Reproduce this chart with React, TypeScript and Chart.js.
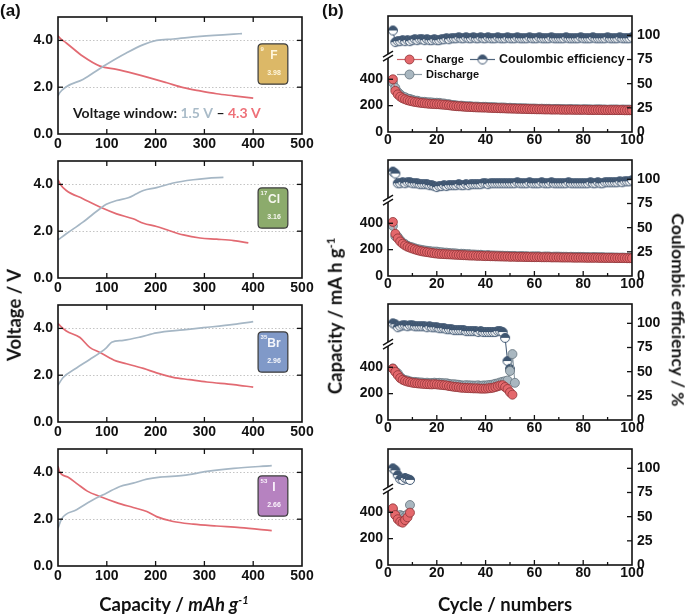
import React, { useEffect, useRef } from 'react';
import { Chart, registerables } from 'chart.js';
Chart.register(...registerables);

// ---------------- (a) voltage profiles: capacity (mAh/g) vs voltage (V) ----------------
const fChargeCap = [0, 3, 17, 51, 86, 99, 140, 175, 202, 236, 291, 360, 377];
const fChargeV = [1.63, 1.75, 2.02, 2.33, 2.8, 2.97, 3.46, 3.82, 4.0, 4.06, 4.17, 4.27, 4.29];
const fDischargeCap = [0, 5, 17, 51, 86, 120, 154, 188, 223, 257, 291, 325, 360, 400];
const fDischargeV = [4.2, 4.08, 3.89, 3.32, 2.9, 2.76, 2.59, 2.4, 2.19, 1.98, 1.84, 1.72, 1.63, 1.53];

const clChargeCap = [0, 17, 51, 86, 99, 120, 144, 161, 175, 202, 236, 277, 305, 339];
const clChargeV = [1.63, 1.89, 2.39, 2.96, 3.15, 3.31, 3.43, 3.6, 3.74, 3.86, 4.06, 4.2, 4.26, 4.3];
const clDischargeCap = [0, 5, 17, 51, 86, 120, 154, 175, 202, 223, 257, 291, 325, 360, 390];
const clDischargeV = [4.2, 4.0, 3.74, 3.39, 3.03, 2.74, 2.53, 2.34, 2.2, 2.06, 1.84, 1.71, 1.66, 1.6, 1.5];

const brChargeCap = [0, 10, 38, 65, 99, 110, 134, 168, 202, 257, 298, 360, 400];
const brChargeV = [1.57, 1.89, 2.31, 2.67, 3.17, 3.41, 3.49, 3.63, 3.81, 3.94, 4.03, 4.17, 4.29];
const brDischargeCap = [0, 5, 17, 45, 65, 86, 106, 120, 140, 175, 202, 236, 270, 305, 360, 400];
const brDischargeV = [4.21, 4.1, 3.89, 3.61, 3.19, 2.97, 2.74, 2.6, 2.49, 2.29, 2.1, 1.91, 1.81, 1.71, 1.6, 1.49];

const iChargeCap = [0, 7, 38, 72, 99, 127, 154, 182, 209, 257, 305, 360, 438];
const iChargeV = [1.61, 2.0, 2.4, 2.83, 3.11, 3.4, 3.54, 3.71, 3.8, 3.87, 4.04, 4.17, 4.29];
const iDischargeCap = [0, 3, 20, 40, 60, 86, 120, 154, 182, 202, 236, 277, 325, 373, 438];
const iDischargeV = [4.26, 4.03, 3.8, 3.5, 3.2, 2.97, 2.71, 2.5, 2.33, 2.11, 1.9, 1.79, 1.71, 1.64, 1.51];

const capacityTicksA = [0, 100, 200, 300, 400, 500];
const voltageTicks = [0, 2, 4];
const voltageGrid = [2, 4];

const badgeNumbers = ['9', '17', '35', '53'];
const badgeSymbols = ['F', 'Cl', 'Br', 'I'];
const badgeValues = ['3.98', '3.16', '2.96', '2.66'];
const badgeColors = ['#dcb867', '#8cab6c', '#8099c8', '#b682c0'];
const badgeTextColors = ['#fff6dc', '#f7f7f0', '#f4f6fb', '#fbf3fc'];

const windowParts: [string, string][] = [
  ['Voltage window: ', '#1a1a1a'],
  ['1.5 V', '#a9bbc8'],
  [' \u2013 ', '#1a1a1a'],
  ['4.3 V', '#ee7078'],
];

// ---------------- (b) cycling: capacity (mAh/g) and CE (%) ----------------
const firstCycle = 2;
const cycleTicks = [0, 20, 40, 60, 80, 100];
const capacityTicksB = [0, 200, 400];
const ceTicks = [0, 25, 50, 75, 100];

const fCharge = [
  400, 312, 285, 268, 256, 248, 241, 236, 232,
  228, 225, 222, 220, 218, 216, 214, 213, 212, 211,
  210, 208, 207, 205, 203, 200, 198, 196, 195, 194,
  192, 191, 190, 189, 188, 187, 186, 186, 185, 185,
  184, 183, 182, 182, 181, 180, 180, 179, 178, 178,
  177, 177, 176, 176, 175, 175, 174, 174, 173, 173,
  172, 172, 172, 171, 171, 171, 170, 170, 170, 170,
  169, 169, 169, 169, 169, 168, 168, 168, 168, 168,
  168, 167, 167, 167, 167, 167, 167, 166, 166, 166,
  166, 166, 166, 166, 166, 166, 165, 165, 165, 165,
];
const fDischarge = [
  375, 335, 303, 285, 269, 264, 254, 251, 244,
  238, 237, 231, 229, 229, 225, 225, 224, 221, 222,
  221, 217, 216, 211, 211, 206, 204, 202, 199, 200,
  198, 195, 196, 195, 192, 193, 192, 190, 191, 191,
  188, 189, 188, 188, 185, 186, 186, 185, 182, 184,
  182, 182, 180, 181, 180, 180, 179, 178, 178, 178,
  177, 176, 177, 176, 176, 176, 173, 175, 175, 175,
  174, 174, 172, 174, 174, 173, 173, 173, 171, 173,
  173, 172, 172, 170, 172, 172, 172, 171, 171, 169,
  171, 171, 171, 171, 169, 171, 170, 170, 170, 168,
];
const fCE = [
  105, 93, 94, 94, 95, 94, 95, 94, 95,
  96, 95, 96, 96, 95, 96, 95, 95, 96, 95,
  95, 96, 96, 97, 96, 97, 97, 97, 98, 97,
  97, 98, 97, 97, 98, 97, 97, 98, 97, 97,
  98, 97, 97, 97, 98, 97, 97, 97, 98, 97,
  97, 97, 98, 97, 97, 97, 97, 98, 97, 97,
  97, 98, 97, 97, 97, 97, 98, 97, 97, 97,
  97, 97, 98, 97, 97, 97, 97, 97, 98, 97,
  97, 97, 97, 98, 97, 97, 97, 97, 97, 98,
  97, 97, 97, 97, 98, 97, 97, 97, 97, 98,
];

const clCharge = [
  410, 320, 285, 262, 245, 232, 222, 215, 208,
  202, 196, 191, 187, 184, 181, 178, 175, 172, 170,
  168, 167, 166, 165, 164, 163, 162, 161, 160, 159,
  158, 157, 156, 155, 155, 154, 153, 153, 152, 151,
  151, 150, 150, 149, 149, 148, 148, 147, 147, 146,
  146, 146, 145, 145, 145, 144, 144, 144, 143, 143,
  143, 143, 142, 142, 142, 142, 141, 141, 141, 141,
  140, 140, 140, 140, 140, 139, 139, 139, 139, 139,
  138, 138, 138, 138, 138, 138, 137, 137, 137, 137,
  137, 137, 136, 136, 136, 136, 136, 135, 135, 135,
];
const clDischarge = [
  380, 302, 297, 273, 253, 242, 229, 222, 217,
  210, 204, 201, 197, 194, 191, 189, 186, 185, 185,
  181, 180, 177, 177, 174, 173, 172, 171, 168, 169,
  168, 165, 166, 163, 163, 162, 161, 161, 158, 157,
  159, 156, 156, 155, 155, 154, 154, 153, 153, 152,
  152, 152, 149, 151, 151, 150, 150, 148, 149, 149,
  149, 149, 146, 148, 148, 148, 145, 147, 147, 147,
  146, 146, 146, 144, 146, 145, 145, 145, 145, 145,
  144, 144, 142, 144, 144, 142, 143, 143, 141, 141,
  141, 141, 140, 140, 139, 140, 139, 138, 138, 136,
];
const clCE = [
  108, 106, 96, 96, 97, 96, 97, 97, 96,
  96, 96, 95, 95, 95, 95, 94, 94, 93, 92,
  93, 93, 94, 93, 94, 94, 94, 94, 95, 94,
  94, 95, 94, 95, 95, 95, 95, 95, 96, 96,
  95, 96, 96, 96, 96, 96, 96, 96, 96, 96,
  96, 96, 97, 96, 96, 96, 96, 97, 96, 96,
  96, 96, 97, 96, 96, 96, 97, 96, 96, 96,
  96, 96, 96, 97, 96, 96, 96, 96, 96, 96,
  96, 96, 97, 96, 96, 97, 96, 96, 97, 97,
  97, 97, 97, 97, 98, 97, 98, 98, 98, 99,
];

const brCharge = [
  390, 365, 340, 318, 305, 297, 291, 287, 283,
  280, 278, 276, 275, 273, 272, 271, 270, 272, 270,
  268, 266, 264, 262, 258, 255, 252, 250, 248, 245,
  244, 243, 242, 241, 240, 240, 239, 238, 238, 238,
  240, 242, 245, 250, 256, 262, 264, 250, 235, 210, 192,
];
const brDischarge = [
  390, 369, 354, 328, 311, 303, 300, 293, 289,
  289, 287, 285, 284, 281, 283, 279, 281, 283, 281,
  282, 280, 278, 279, 274, 271, 271, 269, 267, 263,
  262, 264, 263, 262, 261, 261, 263, 259, 262, 262,
  264, 266, 269, 275, 278, 285, 290, 294, 300, 372, 500, 282,
];
const brCE = [
  100, 99, 96, 97, 98, 98, 97, 98, 98,
  97, 97, 97, 97, 97, 96, 97, 96, 96, 96,
  95, 95, 95, 94, 94, 94, 93, 93, 93, 93,
  93, 92, 92, 92, 92, 92, 91, 92, 91, 91,
  91, 91, 91, 91, 92, 92, 91, 85, 61, 53,
];

const iCharge = [430, 379, 347, 329, 321, 341, 362, 397];
const iDischarge = [420, 380, 365, 379, 372, 365, 385, 455];
const iCE = [100, 98, 93, 89, 88, 90, 89, 88];

const legendLabels = ['Charge', 'Discharge', 'Coulombic efficiency'];

// ---------------- styling ----------------
const TICK_FONT = { family: "'Liberation Sans', Arial, sans-serif", size: 14, weight: 'bold' as const };
const TITLE_FONT = "'Lato', 'Liberation Sans', sans-serif";
const LINE_CHARGE_A = '#a6b7c5';
const LINE_DISCHARGE_A = '#e26a72';
const RED_FILL = '#e4686c';
const RED_EDGE = '#8e3437';
const GRAY_FILL = '#a9b7c0';
const GRAY_EDGE = '#66747e';
const CE_DARK = '#3e5570';

const pts = (xs: number[], ys: number[]) => xs.map((x, i) => ({ x, y: ys[i] }));
const cyc = (ys: number[]) => ys.map((y, i) => ({ x: firstCycle + i, y }));

function makeHalfDot(r: number) {
  const c = document.createElement('canvas');
  const s = Math.ceil(r * 2 + 3);
  c.width = s;
  c.height = s;
  const g = c.getContext('2d')!;
  const m = s / 2;
  g.fillStyle = '#ffffff';
  g.beginPath(); g.arc(m, m, r, 0, Math.PI * 2); g.fill();
  g.fillStyle = CE_DARK;
  g.beginPath(); g.arc(m, m, r, Math.PI, Math.PI * 2); g.closePath(); g.fill();
  g.strokeStyle = CE_DARK; g.lineWidth = 1;
  g.beginPath(); g.arc(m, m, r, 0, Math.PI * 2); g.stroke();
  return c;
}

function line(ctx: CanvasRenderingContext2D, x1: number, y1: number, x2: number, y2: number) {
  ctx.beginPath(); ctx.moveTo(x1, y1); ctx.lineTo(x2, y2); ctx.stroke();
}

function roundRect(ctx: CanvasRenderingContext2D, x: number, y: number, w: number, h: number, r: number) {
  ctx.beginPath();
  ctx.moveTo(x + r, y);
  ctx.lineTo(x + w - r, y); ctx.quadraticCurveTo(x + w, y, x + w, y + r);
  ctx.lineTo(x + w, y + h - r); ctx.quadraticCurveTo(x + w, y + h, x + w - r, y + h);
  ctx.lineTo(x + r, y + h); ctx.quadraticCurveTo(x, y + h, x, y + h - r);
  ctx.lineTo(x, y + r); ctx.quadraticCurveTo(x, y, x + r, y);
  ctx.closePath();
}

const decoPlugin = {
  id: 'deco',
  beforeDatasetsDraw(chart: any, _args: any, o: any) {
    if (o.kind !== 'voltage') return;
    const { ctx, chartArea: a, scales } = chart;
    ctx.save();
    ctx.strokeStyle = '#b5b5b5';
    ctx.lineWidth = 0.8;
    ctx.setLineDash([1.5, 2]);
    for (const v of voltageGrid) {
      const y = Math.round(scales.y.getPixelForValue(v)) + 0.5;
      line(ctx, a.left, y, a.right, y);
    }
    ctx.restore();
  },
  afterDraw(chart: any, _args: any, o: any) {
    const { ctx, chartArea: a, scales } = chart;
    ctx.save();
    ctx.setLineDash([]);
    ctx.strokeStyle = '#111';
    ctx.lineWidth = 1.6;
    ctx.strokeRect(a.left, a.top, a.right - a.left, a.bottom - a.top);
    ctx.lineWidth = 1.3;
    const major = 5, minor = 3;
    if (o.kind === 'voltage') {
      for (const v of capacityTicksA.slice(1, -1)) {
        const x = scales.x.getPixelForValue(v);
        line(ctx, x, a.bottom, x, a.bottom - major);
        line(ctx, x, a.top, x, a.top + major);
      }
      for (const v of voltageGrid) {
        const y = scales.y.getPixelForValue(v);
        line(ctx, a.left, y, a.left + major, y);
        line(ctx, a.right, y, a.right - major, y);
      }
      // element badge
      const i = o.index;
      const x0 = scales.x.getPixelForValue(410), x1 = scales.x.getPixelForValue(471);
      const y0 = scales.y.getPixelForValue(3.85), y1 = scales.y.getPixelForValue(2.13);
      const w = x1 - x0, h = y1 - y0;
      roundRect(ctx, x0, y0, w, h, 4);
      ctx.fillStyle = badgeColors[i];
      ctx.fill();
      ctx.strokeStyle = '#3a3a3a';
      ctx.lineWidth = 1.2;
      ctx.stroke();
      ctx.fillStyle = badgeTextColors[i];
      ctx.textAlign = 'left';
      ctx.textBaseline = 'middle';
      ctx.font = "bold 6px 'Liberation Sans', Arial";
      ctx.fillText(badgeNumbers[i], x0 + 2.5, y0 + 5);
      ctx.textAlign = 'center';
      ctx.font = "bold 12px 'Liberation Sans', Arial";
      ctx.fillText(badgeSymbols[i], x0 + w / 2 + 1, y0 + 12);
      ctx.font = "bold 7px 'Liberation Sans', Arial";
      ctx.fillText(badgeValues[i], x0 + w / 2 + 1, y0 + 29);
      if (o.window) {
        ctx.font = `bold 14px ${TITLE_FONT}`;
        ctx.textAlign = 'left';
        ctx.textBaseline = 'alphabetic';
        let x = a.left + 15;
        const y = a.top + 101;
        for (const [t, c] of windowParts) {
          ctx.fillStyle = c;
          ctx.fillText(t, x, y);
          x += ctx.measureText(t).width;
        }
      }
    } else {
      ctx.strokeStyle = '#111';
      for (const v of cycleTicks.slice(1, -1)) {
        const x = scales.x.getPixelForValue(v);
        line(ctx, x, a.bottom, x, a.bottom - major);
      }
      for (let k = 0; k < cycleTicks.length - 1; k++) {
        const x = scales.x.getPixelForValue((cycleTicks[k] + cycleTicks[k + 1]) / 2);
        line(ctx, x, a.bottom, x, a.bottom - minor);
      }
      for (const v of capacityTicksB.slice(1)) {
        const y = scales.y.getPixelForValue(v);
        line(ctx, a.left, y, a.left + major, y);
      }
      for (const v of ceTicks.slice(1)) {
        const y = scales.y1.getPixelForValue(v);
        line(ctx, a.right, y, a.right - major, y);
      }
      // axis break mark
      const by = scales.y.getPixelForValue(575);
      const bx = a.left;
      ctx.fillStyle = '#ffffff';
      ctx.beginPath();
      ctx.moveTo(bx - 5, by + 1); ctx.lineTo(bx + 5, by - 5); ctx.lineTo(bx + 5, by - 1); ctx.lineTo(bx - 5, by + 5);
      ctx.closePath(); ctx.fill();
      ctx.lineWidth = 1.4;
      line(ctx, bx - 5, by + 1, bx + 5, by - 5);
      line(ctx, bx - 5, by + 5, bx + 5, by - 1);
      if (o.legend) {
        const half = o.halfDot;
        const rows = [
          { x: a.left + 9, y: a.top + 43.5, label: legendLabels[0], line: '#cf6468', fill: RED_FILL, edge: RED_EDGE, size: 11 },
          { x: a.left + 9, y: a.top + 58.5, label: legendLabels[1], line: '#8d9ca6', fill: GRAY_FILL, edge: GRAY_EDGE, size: 11 },
          { x: a.left + 82, y: a.top + 43.5, label: legendLabels[2], line: '#50657c', fill: '', edge: '', size: 12.5 },
        ];
        for (const r of rows) {
          ctx.strokeStyle = r.line;
          ctx.lineWidth = 1.2;
          line(ctx, r.x, r.y, r.x + 25, r.y);
          const mx = r.x + 12.5;
          if (r.fill) {
            ctx.beginPath(); ctx.arc(mx, r.y, 4.5, 0, Math.PI * 2);
            ctx.fillStyle = r.fill; ctx.fill();
            ctx.strokeStyle = r.edge; ctx.lineWidth = 0.8; ctx.stroke();
          } else {
            ctx.drawImage(half, mx - half.width / 2, r.y - half.height / 2);
          }
          ctx.fillStyle = '#111';
          ctx.font = `bold ${r.size}px 'Liberation Sans', Arial`;
          ctx.textAlign = 'left';
          ctx.textBaseline = 'middle';
          ctx.fillText(r.label, r.x + 29, r.y + 0.5);
        }
      }
    }
    ctx.restore();
  },
};

const fixY = (w: number) => (s: any) => { s.width = w; s.paddingTop = 0; s.paddingBottom = 0; };
const fixX = (h: number) => (s: any) => { s.height = h; s.paddingLeft = 0; s.paddingRight = 0; };

const voltageSets = [
  [fChargeCap, fChargeV, fDischargeCap, fDischargeV],
  [clChargeCap, clChargeV, clDischargeCap, clDischargeV],
  [brChargeCap, brChargeV, brDischargeCap, brDischargeV],
  [iChargeCap, iChargeV, iDischargeCap, iDischargeV],
];
const cycleSets = [
  [fCharge, fDischarge, fCE],
  [clCharge, clDischarge, clCE],
  [brCharge, brDischarge, brCE],
  [iCharge, iDischarge, iCE],
];

function voltageConfig(i: number): any {
  const [cc, cv, dc, dv] = voltageSets[i];
  return {
    type: 'line',
    data: {
      datasets: [
        { data: pts(cc, cv), borderColor: LINE_CHARGE_A, borderWidth: 1.7, pointRadius: 0, cubicInterpolationMode: 'monotone' },
        { data: pts(dc, dv), borderColor: LINE_DISCHARGE_A, borderWidth: 1.7, pointRadius: 0, cubicInterpolationMode: 'monotone' },
      ],
    },
    options: {
      animation: false,
      responsive: false,
      events: [],
      layout: { padding: { left: 0, right: 38, top: 10, bottom: 0 } },
      plugins: { legend: { display: false }, tooltip: { enabled: false }, deco: { kind: 'voltage', index: i, window: i === 0 } },
      scales: {
        x: {
          type: 'linear', min: 0, max: 500, afterFit: fixX(25),
          afterBuildTicks: (s: any) => { s.ticks = capacityTicksA.map((value) => ({ value })); },
          grid: { display: false, drawTicks: false }, border: { display: false },
          ticks: { padding: 2, font: TICK_FONT, color: '#111', maxRotation: 0, autoSkip: false },
        },
        y: {
          type: 'linear', min: 0, max: 5, afterFit: fixY(58),
          afterBuildTicks: (s: any) => { s.ticks = voltageTicks.map((value) => ({ value })); },
          grid: { display: false, drawTicks: false }, border: { display: false },
          ticks: { padding: 5, font: TICK_FONT, color: '#111', callback: (v: any) => Number(v).toFixed(1) },
        },
      },
    },
    plugins: [decoPlugin],
  };
}

function cycleConfig(i: number, halfDot: HTMLCanvasElement): any {
  const [ch, dis, ce] = cycleSets[i];
  return {
    type: 'line',
    data: {
      datasets: [
        { label: legendLabels[0], data: cyc(ch), yAxisID: 'y', borderColor: '#c85a5e', borderWidth: 1, pointRadius: 4.5, pointBackgroundColor: RED_FILL, pointBorderColor: RED_EDGE, pointBorderWidth: 0.8 },
        { label: legendLabels[1], data: cyc(dis), yAxisID: 'y', borderColor: '#7f8f99', borderWidth: 1, pointRadius: 4.5, pointBackgroundColor: GRAY_FILL, pointBorderColor: GRAY_EDGE, pointBorderWidth: 0.8 },
        { label: legendLabels[2], data: cyc(ce), yAxisID: 'y1', borderColor: CE_DARK, borderWidth: 1, pointRadius: 4.5, pointStyle: halfDot },
      ],
    },
    options: {
      animation: false,
      responsive: false,
      events: [],
      layout: { padding: { left: 0, right: 0, top: 10, bottom: 0 } },
      plugins: { legend: { display: false }, tooltip: { enabled: false }, deco: { kind: 'cycle', legend: i === 0, halfDot } },
      scales: {
        x: {
          type: 'linear', min: 0, max: 100, afterFit: fixX(25),
          afterBuildTicks: (s: any) => { s.ticks = cycleTicks.map((value) => ({ value })); },
          grid: { display: false, drawTicks: false }, border: { display: false },
          ticks: { padding: 0, font: TICK_FONT, color: '#111', maxRotation: 0, autoSkip: false },
        },
        y: {
          type: 'linear', position: 'left', min: 0, max: 880, afterFit: fixY(48),
          afterBuildTicks: (s: any) => { s.ticks = capacityTicksB.map((value) => ({ value })); },
          grid: { display: false, drawTicks: false }, border: { display: false },
          ticks: { padding: 5, font: TICK_FONT, color: '#111' },
        },
        y1: {
          type: 'linear', position: 'right', min: 0, max: 120, afterFit: fixY(55),
          afterBuildTicks: (s: any) => { s.ticks = ceTicks.map((value) => ({ value })); },
          grid: { display: false, drawTicks: false }, border: { display: false },
          ticks: { padding: 5, font: TICK_FONT, color: '#111' },
        },
      },
    },
    plugins: [decoPlugin],
  };
}

const PLOT_H = 117;
const leftTops = [17, 161, 305, 449];
const rightTops = [16, 160, 304, 449];

function ChartCanvas({ left, top, width, height, make }: { left: number; top: number; width: number; height: number; make: () => any }) {
  const ref = useRef<HTMLCanvasElement>(null);
  useEffect(() => {
    const chart = new Chart(ref.current as HTMLCanvasElement, make());
    return () => chart.destroy();
  }, []);
  return (
    <canvas ref={ref} width={width} height={height}
      style={{ position: 'absolute', left, top, width, height, display: 'block' }} />
  );
}

const txt = (extra: React.CSSProperties): React.CSSProperties => ({
  position: 'absolute', whiteSpace: 'nowrap', lineHeight: 1, color: '#111',
  fontFamily: TITLE_FONT, fontWeight: 700, ...extra,
});
const sup: React.CSSProperties = { fontSize: '0.6em', position: 'relative', top: '-0.6em' };

export default function App() {
  const halfDot = useRef<HTMLCanvasElement | null>(null);
  if (!halfDot.current && typeof document !== 'undefined') halfDot.current = makeHalfDot(4.5);
  return (
    <div style={{ position: 'absolute', left: 0, top: 0, width: 687, height: 615, background: '#fff', overflow: 'hidden' }}>
      {leftTops.map((t, i) => (
        <ChartCanvas key={'a' + i} left={0} top={t - 10} width={340} height={PLOT_H + 35} make={() => voltageConfig(i)} />
      ))}
      {rightTops.map((t, i) => (
        <ChartCanvas key={'b' + i} left={340} top={t - 10} width={347} height={PLOT_H + 34} make={() => cycleConfig(i, halfDot.current as HTMLCanvasElement)} />
      ))}
      <div style={txt({ left: 0, top: 2, fontSize: 17, fontFamily: "'Liberation Sans', Arial" })}>(a)</div>
      <div style={txt({ left: 322, top: 2, fontSize: 17, fontFamily: "'Liberation Sans', Arial" })}>(b)</div>
      <div style={txt({ left: 14, top: 315, fontSize: 18.5, transform: 'translate(-50%, -50%) rotate(-90deg)' })}>Voltage / V</div>
      <div style={txt({ left: 174, top: 604, fontSize: 18.5, transform: 'translate(-50%, -50%)' })}>
        Capacity / <i>mAh g<span style={sup}>-1</span></i>
      </div>
      <div style={txt({ left: 505, top: 604, fontSize: 18.5, transform: 'translate(-50%, -50%)' })}>Cycle / numbers</div>
      <div style={txt({ left: 335, top: 316, fontSize: 18.5, transform: 'translate(-50%, -50%) rotate(-90deg)' })}>
        Capacity / mA h g<span style={sup}>-1</span>
      </div>
      <div style={txt({ left: 678, top: 310, fontSize: 17.5, transform: 'translate(-50%, -50%) rotate(90deg)' })}>Coulombic efficiency / %</div>
    </div>
  );
}
